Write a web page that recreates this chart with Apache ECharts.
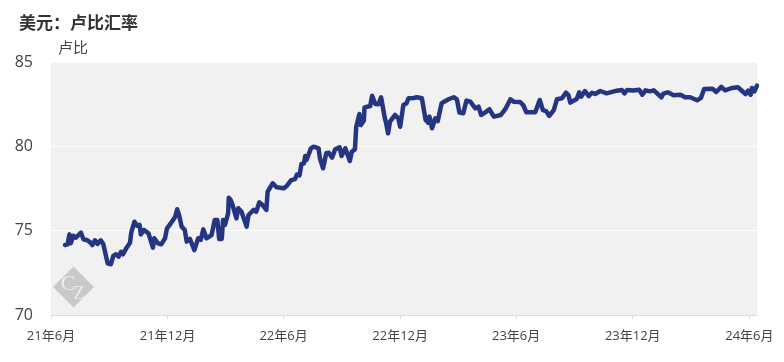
<!DOCTYPE html>
<html lang="zh">
<head>
    <meta charset="UTF-8">
    <title>美元：卢比汇率</title>
    <script src="https://cdn.jsdelivr.net/npm/echarts@6/dist/echarts.min.js"></script>
    <style>
        html, body { margin: 0; padding: 0; background: #fff; }
        #chart { width: 784px; height: 362px; }
    </style>
</head>
<body>
    <div id="chart"></div>

    <script>
// Values
const dates = [
    '2021-06-23','2021-06-27','2021-06-30','2021-07-02','2021-07-06','2021-07-10','2021-07-13','2021-07-18','2021-07-22','2021-07-28',
    '2021-08-02','2021-08-05','2021-08-09','2021-08-13','2021-08-18','2021-08-22','2021-08-25','2021-08-29','2021-09-03','2021-09-07',
    '2021-09-11','2021-09-15','2021-09-19','2021-09-22','2021-09-27','2021-10-03','2021-10-05','2021-10-10','2021-10-14','2021-10-18',
    '2021-10-20','2021-10-25','2021-11-01','2021-11-08','2021-11-10','2021-11-16','2021-11-21','2021-11-27','2021-11-30','2021-12-05',
    '2021-12-13','2021-12-16','2021-12-19','2021-12-23','2021-12-28','2021-12-31','2022-01-05','2022-01-12','2022-01-18','2022-01-22',
    '2022-01-26','2022-01-31','2022-02-08','2022-02-13','2022-02-17','2022-02-20','2022-02-24','2022-02-26','2022-03-01','2022-03-06',
    '2022-03-07','2022-03-10','2022-03-13','2022-03-15','2022-03-19','2022-03-22','2022-03-27','2022-04-04','2022-04-07','2022-04-15',
    '2022-04-19','2022-04-24','2022-04-29','2022-05-05','2022-05-07','2022-05-15','2022-05-21','2022-06-01','2022-06-06','2022-06-13',
    '2022-06-19','2022-06-22','2022-06-26','2022-06-29','2022-07-03','2022-07-05','2022-07-07','2022-07-14','2022-07-18','2022-07-26',
    '2022-07-28','2022-08-02','2022-08-07','2022-08-11','2022-08-16','2022-08-21','2022-08-28','2022-08-31','2022-09-06','2022-09-13',
    '2022-09-16','2022-09-21','2022-09-23','2022-09-28','2022-09-30','2022-10-05','2022-10-06','2022-10-15','2022-10-18','2022-10-23',
    '2022-10-28','2022-11-01','2022-11-07','2022-11-09','2022-11-12','2022-11-15','2022-11-23','2022-11-28','2022-12-01','2022-12-06',
    '2022-12-11','2022-12-14','2022-12-22','2022-12-27','2023-01-04','2023-01-10','2023-01-14','2023-01-16','2023-01-20','2023-01-25',
    '2023-01-29','2023-02-04','2023-02-08','2023-02-15','2023-02-23','2023-02-28','2023-03-04','2023-03-10','2023-03-15','2023-03-21',
    '2023-03-29','2023-04-03','2023-04-07','2023-04-13','2023-04-20','2023-04-27','2023-05-08','2023-05-15','2023-05-23','2023-05-28',
    '2023-06-07','2023-06-12','2023-06-17','2023-07-01','2023-07-04','2023-07-08','2023-07-13','2023-07-18','2023-07-23','2023-07-30',
    '2023-08-04','2023-08-12','2023-08-18','2023-08-22','2023-08-25','2023-09-04','2023-09-08','2023-09-11','2023-09-17','2023-09-23',
    '2023-09-28','2023-10-03','2023-10-11','2023-10-21','2023-11-06','2023-11-14','2023-11-18','2023-11-22','2023-12-02','2023-12-11',
    '2023-12-16','2023-12-21','2023-12-28','2024-01-03','2024-01-15','2024-01-18','2024-01-25','2024-02-03','2024-02-14','2024-02-21',
    '2024-02-29','2024-03-11','2024-03-17','2024-03-22','2024-04-04','2024-04-10','2024-04-18','2024-04-24','2024-05-05','2024-05-14',
    '2024-05-26','2024-05-30','2024-06-03','2024-06-05','2024-06-09','2024-06-13'
];
const usdInr = [
    74.15,74.19,74.78,74.25,74.70,74.58,74.62,74.88,74.49,74.43,
    74.29,74.15,74.43,74.21,74.43,74.21,74.19,73.06,73.01,73.52,
    73.60,73.46,73.75,73.60,73.95,74.29,74.90,75.53,75.29,75.34,
    74.78,75.04,74.84,73.99,74.55,74.25,74.19,74.55,75.14,75.38,
    75.83,76.27,75.93,75.24,75.04,74.35,74.51,73.85,74.55,74.45,
    75.08,74.55,74.74,75.63,75.63,74.51,74.51,75.63,75.34,76.03,
    76.95,76.82,76.52,76.62,75.73,76.33,76.12,75.24,75.93,76.23,
    76.12,76.68,76.52,76.23,77.31,77.81,77.57,77.51,77.65,78.00,
    78.06,78.33,78.28,78.95,78.99,79.43,79.19,79.88,79.98,79.88,
    79.29,78.70,79.59,79.62,79.33,79.82,79.94,79.43,79.88,79.13,
    79.68,79.82,81.16,81.92,81.26,81.52,82.31,82.39,83.00,82.51,
    82.49,82.91,81.66,81.37,80.77,81.46,81.86,81.66,81.16,82.45,
    82.55,82.85,82.87,82.91,82.85,81.56,81.40,81.76,81.07,81.66,
    81.50,82.55,82.65,82.79,82.91,82.79,82.00,81.96,82.71,82.65,
    82.25,82.35,81.86,82.00,82.20,81.76,81.86,82.20,82.79,82.65,
    82.63,82.45,82.02,82.02,81.96,82.75,82.15,82.09,81.80,82.15,
    82.79,82.85,83.18,83.04,82.59,82.81,83.20,82.94,83.28,82.98,
    83.18,83.10,83.28,83.14,83.30,83.34,83.14,83.34,83.31,83.36,
    83.06,83.32,83.26,83.32,82.91,83.12,83.20,83.03,83.06,82.91,
    82.91,82.73,82.87,83.40,83.42,83.22,83.52,83.32,83.46,83.50,
    83.10,83.30,83.06,83.46,83.26,83.60
];
const tickDates = ['2021-06-01','2021-12-01','2022-06-01','2022-12-01','2023-06-01','2023-12-01','2024-06-01'];
const tickLabels = ['21年6月','21年12月','22年6月','22年12月','23年6月','23年12月','24年6月'];
const yTicks = { min: 70, max: 85, interval: 5 };

const toTime = s => new Date(s + 'T00:00:00').getTime();
const tickTimes = tickDates.map(toTime);
const font = '"Open Sans", "Noto Sans CJK SC", sans-serif';

const myChart = echarts.init(document.getElementById('chart'), null, { renderer: 'canvas' });

myChart.setOption({
    animation: false,
    backgroundColor: '#fff',
    title: {
        text: '美元：卢比汇率',
        left: 14,
        top: 11,
        textStyle: { fontFamily: font, fontSize: 17, fontWeight: 'bold', color: '#333' }
    },
    grid: {
        left: 51,
        right: 27,
        top: 62,
        bottom: 47,
        show: true,
        backgroundColor: '#f1f1f2',
        borderWidth: 0
    },
    // value axis on timestamps: the time axis does not take customValues here
    xAxis: {
        type: 'value',
        min: toTime('2021-06-01'),
        max: toTime('2024-06-13'),
        scale: true,
        splitLine: { show: false },
        axisLine: { lineStyle: { color: '#dddddd', width: 1 } },
        axisTick: {
            customValues: tickTimes,
            length: 4,
            lineStyle: { color: '#dddddd' }
        },
        axisLabel: {
            customValues: tickTimes,
            margin: 15,
            hideOverlap: false,
            fontFamily: font,
            fontSize: 13,
            color: '#444',
            formatter: v => tickLabels[tickTimes.indexOf(v)] || ''
        }
    },
    yAxis: {
        type: 'value',
        min: yTicks.min,
        max: yTicks.max,
        interval: yTicks.interval,
        name: '卢比',
        nameLocation: 'end',
        nameGap: 6,
        nameTextStyle: { fontFamily: font, fontSize: 15, color: '#444', align: 'left', padding: [0, 0, 0, 7] },
        axisLine: { show: false },
        axisTick: { show: false },
        splitLine: { lineStyle: { color: '#ffffff', width: 1 } },
        axisLabel: { margin: 18, fontFamily: font, fontSize: 16, color: '#444' }
    },
    series: [{
        name: '美元：卢比',
        type: 'line',
        showSymbol: false,
        smooth: false,
        data: dates.map((d, i) => [toTime(d), usdInr[i]]),
        lineStyle: { color: '#253582', width: 4.5, cap: 'round', join: 'round' }
    }],
    graphic: [
        {
            type: 'rect',
            x: 73.5,
            y: 287,
            rotation: Math.PI / 4,
            shape: { x: -14.5, y: -14.5, width: 29, height: 29 },
            style: { fill: '#c9c9c9' }
        },
        {
            type: 'text',
            x: 68,
            y: 284,
            style: { text: 'C', fill: '#ececec', font: '22px "Liberation Serif", serif', textAlign: 'center', textVerticalAlign: 'middle' }
        },
        {
            type: 'text',
            x: 79,
            y: 294,
            style: { text: 'Z', fill: '#ececec', font: '18px "Liberation Serif", serif', textAlign: 'center', textVerticalAlign: 'middle' }
        }
    ]
});
    </script>
</body>
</html>
